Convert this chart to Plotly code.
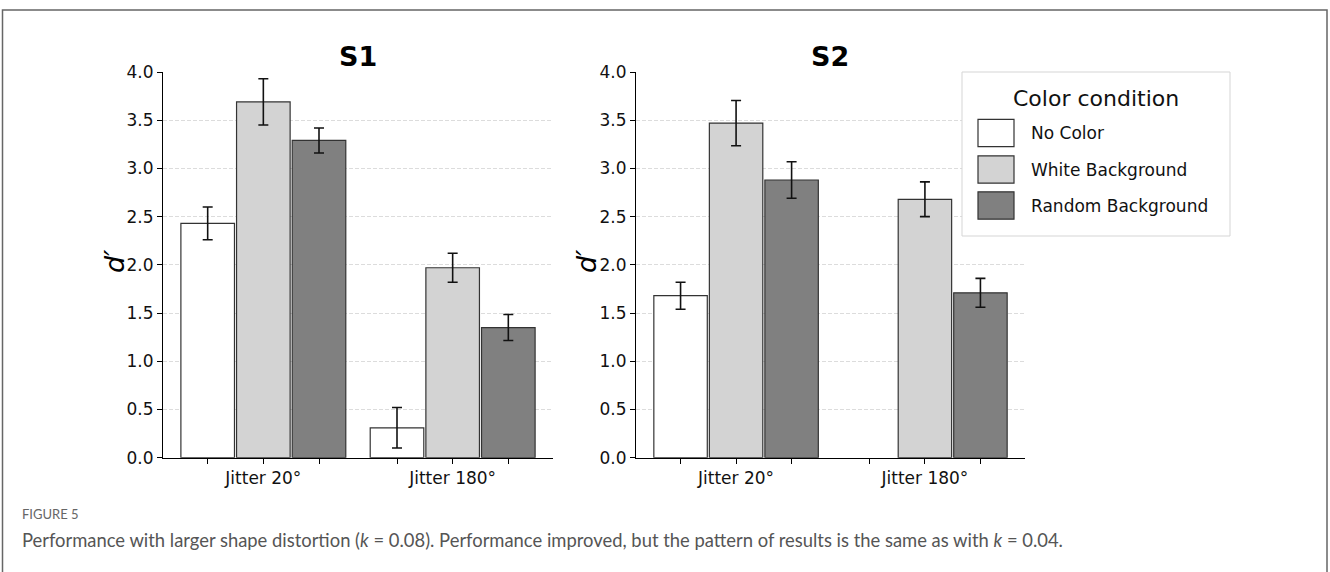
import plotly.graph_objects as go

# ---------------- data ----------------
conditions = ["No Color", "White Background", "Random Background"]
jitter_labels = ["Jitter 20°", "Jitter 180°"]

s1_no_color = [2.43, 0.31]
s1_no_color_err = [0.17, 0.21]
s1_white_bg = [3.69, 1.97]
s1_white_bg_err = [0.24, 0.15]
s1_random_bg = [3.29, 1.35]
s1_random_bg_err = [0.13, 0.135]

s2_no_color = [1.68, None]
s2_no_color_err = [0.14, None]
s2_white_bg = [3.47, 2.68]
s2_white_bg_err = [0.235, 0.18]
s2_random_bg = [2.88, 1.71]
s2_random_bg_err = [0.19, 0.15]

y_ticks = [0.0, 0.5, 1.0, 1.5, 2.0, 2.5, 3.0, 3.5, 4.0]

# ---------------- style ----------------
W, H = 1330, 572
def px(x):
    return x / W
def py(y):
    return 1 - y / H

fills = ["#ffffff", "#d3d3d3", "#808080"]
edge = "#333333"
offsets = [-0.294, 0.0, 0.294]
bar_w = 0.283
FONT = "DejaVu Sans"

panels = [
    ("S1", [s1_no_color, s1_white_bg, s1_random_bg],
     [s1_no_color_err, s1_white_bg_err, s1_random_bg_err], "x", "y"),
    ("S2", [s2_no_color, s2_white_bg, s2_random_bg],
     [s2_no_color_err, s2_white_bg_err, s2_random_bg_err], "x2", "y2"),
]

fig = go.Figure()
for pname, means, errs, xa, ya in panels:
    for ci, cond in enumerate(conditions):
        xs = [gi + offsets[ci] for gi in range(len(jitter_labels))]
        fig.add_trace(go.Bar(
            x=xs, y=means[ci], width=bar_w,
            marker=dict(color=fills[ci], line=dict(color=edge, width=1.2)),
            error_y=dict(type="data", array=errs[ci], visible=True,
                         color="#111111", thickness=1.6, width=5),
            name=cond, showlegend=False, xaxis=xa, yaxis=ya,
        ))

tickvals = [gi + o for gi in range(len(jitter_labels)) for o in offsets]
ticktext = [jitter_labels[gi] if o == 0 else "" for gi in range(len(jitter_labels)) for o in offsets]

xcommon = dict(range=[-0.53, 1.53], tickmode="array", tickvals=tickvals, ticktext=ticktext,
               ticks="outside", ticklen=5, tickwidth=1, tickcolor="#000",
               showline=True, linecolor="#000", linewidth=1.2, showgrid=False,
               zeroline=False, tickfont=dict(family=FONT, size=17, color="#111"),
               automargin=False, fixedrange=True)
ycommon = dict(range=[0, 4], tickmode="array", tickvals=y_ticks,
               ticktext=[f"{v:.1f}" for v in y_ticks],
               ticks="outside", ticklen=5, tickwidth=1, tickcolor="#000",
               showline=True, linecolor="#000", linewidth=1.2,
               showgrid=True, gridcolor="#dcdcdc", gridwidth=1, griddash="4px,2px",
               zeroline=False, tickfont=dict(family=FONT, size=17, color="#111"),
               automargin=False, fixedrange=True)

ydom = [py(457.7), py(72)]
fig.update_layout(
    width=W, height=H,
    margin=dict(l=0, r=0, t=0, b=0),
    paper_bgcolor="white", plot_bgcolor="white",
    template="none",
    barmode="overlay",
    showlegend=False,
    xaxis=dict(domain=[px(163), px(553)], anchor="y", **xcommon),
    yaxis=dict(domain=ydom, anchor="x", **ycommon),
    xaxis2=dict(domain=[px(636), px(1025)], anchor="y2", **xcommon),
    yaxis2=dict(domain=ydom, anchor="x2", **ycommon),
)

shapes = []
annotations = []

# outer frame
shapes.append(dict(type="rect", xref="paper", yref="paper",
                   x0=px(2.5), x1=px(1327), y0=-0.2, y1=py(10),
                   line=dict(color="#666666", width=1.5), fillcolor="rgba(0,0,0,0)",
                   layer="above"))

# panel titles & y labels
for title, cx, lx in [("S1", 358, 114), ("S2", 830, 586)]:
    annotations.append(dict(text=f"<b>{title}</b>", xref="paper", yref="paper",
                            x=px(cx), y=py(56), xanchor="center", yanchor="middle",
                            showarrow=False, font=dict(family=FONT, size=27, color="#000")))
    annotations.append(dict(text="<i>d′</i>", xref="paper", yref="paper",
                            x=px(lx), y=py(262), xanchor="center", yanchor="middle",
                            textangle=-90, showarrow=False,
                            font=dict(family=FONT, size=27, color="#000")))

# legend (drawn manually to match the boxed legend)
shapes.append(dict(type="rect", xref="paper", yref="paper",
                   x0=px(962), x1=px(1230), y0=py(236), y1=py(72),
                   line=dict(color="#d5d5d5", width=1), fillcolor="white", layer="above"))
annotations.append(dict(text="Color condition", xref="paper", yref="paper",
                        x=px(1096), y=py(98), xanchor="center", yanchor="middle",
                        showarrow=False, font=dict(family=FONT, size=22, color="#111")))
legend_rows = [133, 169.5, 205.5]
for ci, cond in enumerate(conditions):
    cy = legend_rows[ci]
    shapes.append(dict(type="rect", xref="paper", yref="paper",
                       x0=px(978), x1=px(1014), y0=py(cy + 13.7), y1=py(cy - 13.7),
                       line=dict(color=edge, width=1.2), fillcolor=fills[ci], layer="above"))
    annotations.append(dict(text=cond, xref="paper", yref="paper",
                            x=px(1029), y=py(cy), xanchor="left", yanchor="middle",
                            showarrow=False, font=dict(family=FONT, size=17, color="#111")))

# caption
annotations.append(dict(text="FIGURE 5", xref="paper", yref="paper",
                        x=px(20), y=py(514), xanchor="left", yanchor="middle",
                        showarrow=False, font=dict(family="Lato", size=13, color="#666")))
annotations.append(dict(
    text="Performance with larger shape distortion (<i>k</i> = 0.08). Performance improved, "
         "but the pattern of results is the same as with <i>k</i> = 0.04.",
    xref="paper", yref="paper", x=px(20), y=py(540), xanchor="left", yanchor="middle",
    showarrow=False, font=dict(family="Lato", size=18.4, color="#555")))

fig.update_layout(shapes=shapes, annotations=annotations)
fig.write_html("out.html")
